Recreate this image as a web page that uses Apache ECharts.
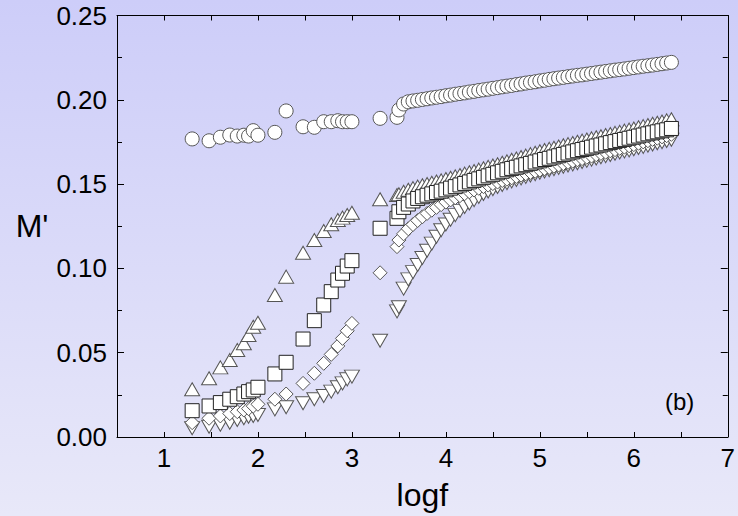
<!DOCTYPE html>
<html>
<head>
<meta charset="utf-8">
<script src="https://cdn.jsdelivr.net/npm/echarts@6/dist/echarts.min.js"></script>
<style>
html,body{margin:0;padding:0;background:#e0e0f8;}
#chart{width:738px;height:516px;}
</style>
</head>
<body>
<div id="chart"></div>
<script>
// ---- data ----
const logf = [1.30,1.48,1.60,1.70,1.78,1.85,1.90,1.95,2.00,2.18,2.30,2.48,2.60,2.70,2.78,2.85,2.90,2.95,3.00,3.30,3.48,
  3.50,3.55,3.60,3.65,3.70,3.75,3.80,3.85,3.90,3.95,
  4.00,4.05,4.10,4.15,4.20,4.25,4.30,4.35,4.40,4.45,
  4.50,4.55,4.60,4.65,4.70,4.75,4.80,4.85,4.90,4.95,
  5.00,5.05,5.10,5.15,5.20,5.25,5.30,5.35,5.40,5.45,
  5.50,5.55,5.60,5.65,5.70,5.75,5.80,5.85,5.90,5.95,
  6.00,6.05,6.10,6.15,6.20,6.25,6.30,6.35,6.40];

const circles = [0.1768,0.1757,0.1778,0.1791,0.1785,0.1790,0.1785,0.1817,0.1790,0.1807,0.1934,0.1840,0.1837,0.1870,0.1870,0.1876,0.1870,0.1870,0.1870,0.1890,0.1896,
  0.1940,0.1975,0.1988,0.1993,0.1997,0.2002,0.2006,0.2011,0.2015,0.2019,
  0.2024,0.2028,0.2033,0.2037,0.2041,0.2046,0.2050,0.2055,0.2059,0.2063,
  0.2068,0.2072,0.2077,0.2081,0.2085,0.2090,0.2094,0.2099,0.2103,0.2107,
  0.2112,0.2116,0.2121,0.2125,0.2129,0.2133,0.2137,0.2141,0.2145,0.2148,
  0.2152,0.2156,0.2160,0.2164,0.2168,0.2172,0.2176,0.2179,0.2183,0.2187,
  0.2191,0.2195,0.2199,0.2202,0.2206,0.2210,0.2214,0.2218,0.2222];

const upTriangles = [0.0283,0.0348,0.0413,0.0457,0.0516,0.0556,0.0605,0.0654,0.0678,0.0842,0.0951,0.1093,0.1168,0.1222,0.1262,0.1287,0.1301,0.1317,0.1330,0.1410,0.1435,
  0.1440,0.1455,0.1466,0.1476,0.1485,0.1493,0.1501,0.1508,0.1515,0.1522,
  0.1530,0.1538,0.1546,0.1554,0.1562,0.1570,0.1578,0.1586,0.1594,0.1602,
  0.1610,0.1618,0.1627,0.1635,0.1644,0.1652,0.1661,0.1669,0.1678,0.1686,
  0.1695,0.1702,0.1709,0.1716,0.1723,0.1730,0.1737,0.1744,0.1751,0.1758,
  0.1765,0.1771,0.1778,0.1784,0.1791,0.1797,0.1804,0.1810,0.1817,0.1823,
  0.1830,0.1837,0.1844,0.1851,0.1858,0.1864,0.1871,0.1878,0.1885];

const squares = [0.0156,0.0184,0.0204,0.0224,0.0239,0.0255,0.0269,0.0279,0.0295,0.0374,0.0443,0.0581,0.0690,0.0783,0.0862,0.0931,0.0971,0.1014,0.1046,0.1238,0.1297,
  0.1336,0.1362,0.1382,0.1400,0.1415,0.1425,0.1434,0.1442,0.1450,0.1458,
  0.1466,0.1476,0.1485,0.1495,0.1504,0.1513,0.1522,0.1531,0.1540,0.1549,
  0.1558,0.1567,0.1576,0.1585,0.1593,0.1600,0.1608,0.1615,0.1623,0.1631,
  0.1638,0.1646,0.1653,0.1661,0.1668,0.1676,0.1684,0.1691,0.1698,0.1705,
  0.1712,0.1719,0.1726,0.1732,0.1739,0.1746,0.1752,0.1759,0.1765,0.1772,
  0.1778,0.1785,0.1791,0.1798,0.1804,0.1810,0.1816,0.1822,0.1830];

const diamonds = [0.0085,0.0111,0.0125,0.0139,0.0150,0.0160,0.0168,0.0183,0.0194,0.0224,0.0255,0.0318,0.0378,0.0437,0.0490,0.0540,0.0585,0.0630,0.0674,0.0974,0.1129,
  0.1168,0.1205,0.1235,0.1260,0.1284,0.1306,0.1326,0.1345,0.1362,0.1378,
  0.1393,0.1406,0.1419,0.1431,0.1443,0.1454,0.1465,0.1475,0.1485,0.1494,
  0.1503,0.1512,0.1521,0.1529,0.1537,0.1545,0.1553,0.1561,0.1569,0.1576,
  0.1583,0.1591,0.1598,0.1606,0.1613,0.1621,0.1629,0.1636,0.1644,0.1651,
  0.1659,0.1666,0.1674,0.1682,0.1689,0.1697,0.1704,0.1712,0.1719,0.1727,
  0.1734,0.1742,0.1750,0.1757,0.1765,0.1772,0.1780,0.1787,0.1795];

const downTriangles = [0.0052,0.0061,0.0073,0.0085,0.0101,0.0111,0.0120,0.0125,0.0130,0.0164,0.0176,0.0200,0.0224,0.0243,0.0269,0.0295,0.0318,0.0342,0.0358,0.0571,0.0745,
  0.0770,0.0880,0.0935,0.0978,0.1020,0.1062,0.1105,0.1147,0.1188,0.1226,
  0.1260,0.1289,0.1316,0.1341,0.1364,0.1385,0.1405,0.1424,0.1441,0.1456,
  0.1470,0.1483,0.1495,0.1506,0.1516,0.1525,0.1534,0.1543,0.1551,0.1559,
  0.1567,0.1575,0.1582,0.1589,0.1596,0.1603,0.1610,0.1617,0.1624,0.1631,
  0.1638,0.1645,0.1652,0.1659,0.1666,0.1673,0.1680,0.1687,0.1694,0.1700,
  0.1707,0.1714,0.1721,0.1728,0.1735,0.1742,0.1749,0.1756,0.1763];

const xTickValues = [1,2,3,4,5,6,7];
const xAxisTitle = 'logf';
const yAxisTitle = "M'";
const panelLabel = '(b)';

// ---- chart ----
const FONT = 'Liberation Sans, Arial, Helvetica, sans-serif';
const chart = echarts.init(document.getElementById('chart'), null, {renderer: 'svg'});

function pairs(ys) { return logf.map((x, i) => [x, ys[i]]); }

function mk(name, ys, symbol, size, rotate, border, z) {
  return {
    name: name, type: 'scatter', data: pairs(ys), symbol: symbol, symbolSize: size,
    symbolRotate: rotate, clip: false, z: z,
    itemStyle: {color: '#ffffff', borderColor: border, borderWidth: 1, opacity: 1},
    emphasis: {disabled: true}
  };
}

const axisLineStyle = {color: '#000', width: 1};
const xCommon = {
  type: 'value', min: 0.5, max: 7, interval: 0.5,
  splitLine: {show: false},
  axisLine: {show: true, onZero: false, lineStyle: axisLineStyle},
  axisTick: {show: true, inside: true, length: 5, lineStyle: axisLineStyle}
};
const yCommon = {
  type: 'value', min: 0, max: 0.25, interval: 0.05,
  splitLine: {show: false},
  axisLine: {show: true, onZero: false, lineStyle: axisLineStyle},
  axisTick: {show: true, inside: true, length: 7, lineStyle: axisLineStyle},
  minorTick: {show: true, splitNumber: 2, length: 5, lineStyle: axisLineStyle}
};

chart.setOption({
  animation: false,
  graphic: [
    {type: 'rect', z: -100, silent: true, shape: {x: 0, y: 0, width: 738, height: 516},
     style: {fill: {type: 'linear', x: 0, y: 0, x2: 0, y2: 1,
       colorStops: [{offset: 0, color: '#cdcdf9'}, {offset: 1, color: '#e8e8f9'}]}}},
    {type: 'text', left: 665, top: 389, z: 10,
     style: {text: panelLabel, font: '24px ' + FONT, fill: '#000'}}
  ],
  grid: {left: 117, right: 8, top: 15.5, bottom: 79, containLabel: false},
  xAxis: [
    Object.assign({}, xCommon, {
      position: 'bottom',
      name: xAxisTitle, nameLocation: 'middle', nameGap: 58,
      nameTextStyle: {fontSize: 32, fontFamily: FONT, color: '#000', verticalAlign: 'middle'},
      axisLabel: {show: true, margin: 8, fontSize: 26, fontFamily: FONT, color: '#000',
        formatter: v => xTickValues.indexOf(v) >= 0 ? String(v) : ''}
    }),
    Object.assign({}, xCommon, {position: 'top', axisLabel: {show: false}})
  ],
  yAxis: [
    Object.assign({}, yCommon, {
      position: 'left',
      name: yAxisTitle, nameLocation: 'middle', nameGap: 85, nameRotate: 0,
      nameTextStyle: {fontSize: 32, fontFamily: FONT, color: '#000', align: 'center', verticalAlign: 'middle',
        padding: [0, 0, 18, 0]},
      axisLabel: {show: true, margin: 10, fontSize: 26, fontFamily: FONT, color: '#000',
        formatter: v => v.toFixed(2)}
    }),
    Object.assign({}, yCommon, {position: 'right', axisLabel: {show: false}})
  ],
  series: [
    mk('downTriangles', downTriangles, 'triangle', [15, 13], 180, '#555', 2),
    mk('diamonds', diamonds, 'diamond', 14, 0, '#555', 3),
    mk('upTriangles', upTriangles, 'triangle', [15, 13], 0, '#555', 4),
    mk('squares', squares, 'rect', 14, 0, '#222', 5),
    mk('circles', circles, 'circle', 14, 0, '#555', 6)
  ]
});
</script>
</body>
</html>
